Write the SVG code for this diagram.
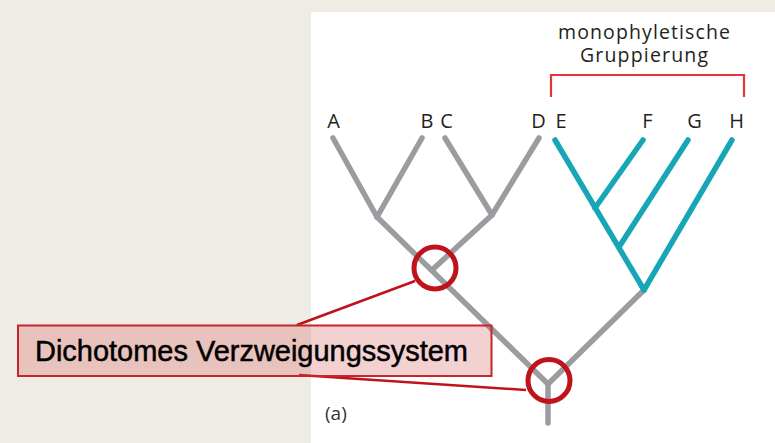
<svg xmlns="http://www.w3.org/2000/svg" width="775" height="443" viewBox="0 0 775 443">
  <style>
    .grey { stroke: #9a9c9f; stroke-width: 5.5; stroke-linecap: round; fill: none; }
    .teal { stroke: #17a6b6; stroke-width: 5.5; stroke-linecap: round; fill: none; }
    .ring { stroke: #c0121b; stroke-width: 5; fill: none; }
    .lead { stroke: #c0121b; stroke-width: 2.5; fill: none; }
    .leaf { font-family: "Open Sans", "DejaVu Sans", sans-serif; font-size: 20px; fill: #231f20; text-anchor: middle; }
    .head { font-family: "Open Sans", "DejaVu Sans", sans-serif; font-size: 19.5px; fill: #231f20; text-anchor: middle; }
  </style>
  <rect x="0" y="0" width="775" height="443" fill="#efebe5"/>
  <rect x="311" y="12" width="464" height="431" fill="#ffffff"/>

  <g id="connectors">
    <!-- grey part of tree -->
    <line class="grey" x1="333" y1="138" x2="377" y2="217"/>
    <line class="grey" x1="422" y1="138" x2="377" y2="217"/>
    <line class="grey" x1="377" y1="217" x2="548" y2="384"/>
    <line class="grey" x1="445" y1="138" x2="492" y2="215"/>
    <line class="grey" x1="539" y1="138" x2="492" y2="215"/>
    <line class="grey" x1="492" y1="215" x2="432" y2="270"/>
    <line class="grey" x1="548" y1="384" x2="548" y2="423"/>
    <line class="grey" x1="548" y1="384" x2="644" y2="290"/>
    <!-- teal monophyletic group -->
    <line class="teal" x1="555" y1="140" x2="644" y2="290"/>
    <line class="teal" x1="643" y1="140" x2="595" y2="208"/>
    <line class="teal" x1="688" y1="140" x2="619" y2="247"/>
    <line class="teal" x1="732" y1="140" x2="644" y2="290"/>
    <!-- bracket -->
    <polyline points="551,97 551,75 744,75 744,97" fill="none" stroke="#e2363c" stroke-width="2.2"/>
    <!-- leader lines -->
    <line class="lead" x1="415" y1="281" x2="297" y2="325"/>
    <line class="lead" x1="299" y1="375" x2="526" y2="390"/>
  </g>

  <g id="labels">
    <text class="leaf" x="333.5" y="127.5">A</text>
    <text class="leaf" x="427" y="127.5">B</text>
    <text class="leaf" x="446.5" y="127.5">C</text>
    <text class="leaf" x="538.5" y="127.5">D</text>
    <text class="leaf" x="561" y="127.5">E</text>
    <text class="leaf" x="647.5" y="127.5">F</text>
    <text class="leaf" x="694.5" y="127.5">G</text>
    <text class="leaf" x="736.5" y="127.5">H</text>
  </g>

  <g id="group-title">
    <text class="head" x="644" y="38.5" textLength="172" lengthAdjust="spacing">monophyletische</text>
    <text class="head" x="644" y="61.5" textLength="128" lengthAdjust="spacing">Gruppierung</text>
  </g>

  <g id="node-circle-1">
    <circle class="ring" cx="435" cy="268" r="21"/>
  </g>
  <g id="node-circle-2">
    <circle class="ring" cx="549" cy="380.5" r="21"/>
  </g>

  <g id="node-annotation">
    <rect x="18" y="325.5" width="473.5" height="50.5" fill="rgb(210,70,70)" fill-opacity="0.25" stroke="#c4262e" stroke-width="2"/>
    <text x="35" y="360.5" font-family="'Liberation Sans', Arial, sans-serif" font-size="29" fill="#000000" stroke="#000000" stroke-width="0.5" textLength="433" lengthAdjust="spacingAndGlyphs">Dichotomes Verzweigungssystem</text>
  </g>

  <g id="caption">
    <text x="325" y="420" font-family="'Open Sans', 'DejaVu Sans', sans-serif" font-size="19" fill="#333333">(a)</text>
  </g>
</svg>
